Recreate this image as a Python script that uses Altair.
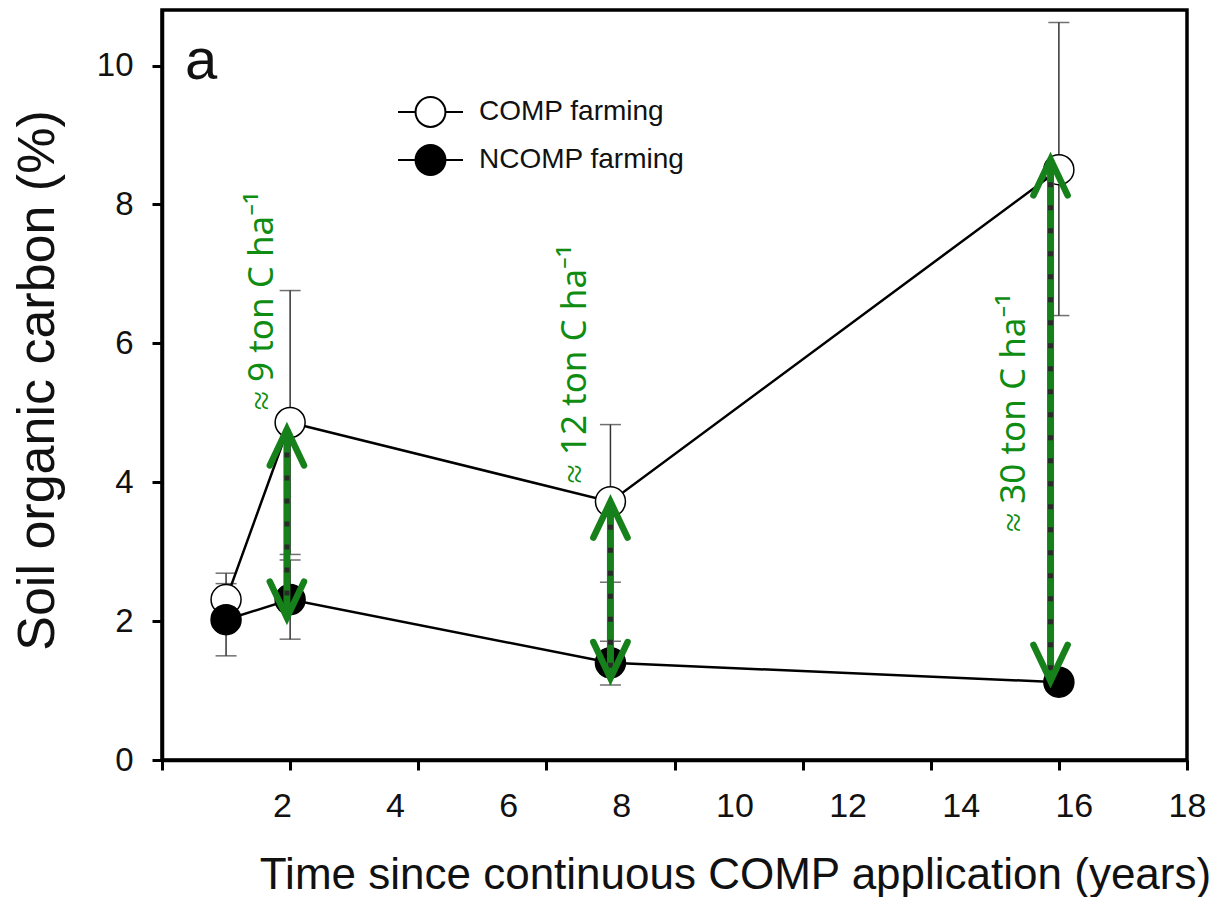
import altair as alt
import pandas as pd

# ---------------- data ----------------
years = [1, 2, 7, 14]
comp_mean = [2.31, 4.86, 3.72, 8.50]
comp_lo = [1.93, 2.96, 2.56, 6.40]
comp_hi = [2.69, 6.76, 4.83, 10.62]
ncomp_mean = [2.02, 2.31, 1.40, 1.12]
ncomp_lo = [1.50, 1.74, 1.08, 1.04]
ncomp_hi = [2.54, 2.88, 1.71, 1.20]
series_names = ["COMP farming", "NCOMP farming"]

x_tick_positions = [0, 2, 4, 6, 8, 10, 12, 14, 16]
x_tick_labels = [2, 4, 6, 8, 10, 12, 14, 16, 18]
y_ticks = [0, 2, 4, 6, 8, 10]

arrow_x = [1.95, 7.0, 13.87]
arrow_top = [4.76, 3.72, 8.65]
arrow_bottom = [2.05, 1.18, 1.14]

ann_text = ["≈ 9 ton C ha⁻¹", "≈ 12 ton C ha⁻¹", "≈ 30 ton C ha⁻¹"]
ann_x = [1.56, 6.45, 13.30]
ann_y = [6.61, 5.70, 5.00]

panel_label = ["a"]

x_title = "Time since continuous COMP application (years)"
y_title = "Soil organic carbon (%)"

# ---------------- tables ----------------
rows = []
for i, yr in enumerate(years):
    rows.append({"year": yr, "series": series_names[0], "mean": comp_mean[i], "lo": comp_lo[i], "hi": comp_hi[i]})
for i, yr in enumerate(years):
    rows.append({"year": yr, "series": series_names[1], "mean": ncomp_mean[i], "lo": ncomp_lo[i], "hi": ncomp_hi[i]})
df = pd.DataFrame(rows)
arrows = pd.DataFrame({"ax": arrow_x, "top": arrow_top, "bottom": arrow_bottom})
ann = pd.DataFrame({"x": ann_x, "y": ann_y, "t": ann_text})

FONT = "Liberation Sans"
GREEN = "#16801a"
TEXT_GREEN = "#0f8c12"

xscale = alt.Scale(domain=[0, 16], nice=False, zero=False)
yscale = alt.Scale(domain=[0, 10.8], nice=False, zero=False)

xaxis = alt.Axis(values=x_tick_positions, labels=False, ticks=True, tickSize=10, tickWidth=3,
                 tickColor="black", domainColor="black", domainWidth=3.5, grid=False,
                 orient="bottom", title=x_title, titleFont=FONT, titleFontSize=44,
                 titleFontWeight="normal", titleColor="#111", titleX=573, titleY=128,
                 titleAlign="center", titleBaseline="alphabetic", labelFlush=False)
yaxis = alt.Axis(values=y_ticks, tickSize=10, tickWidth=3, tickColor="black", domainColor="black",
                 domainWidth=3.5, grid=False, labelFont=FONT, labelFontSize=33, labelColor="#111",
                 labelPadding=19, title=y_title, titleFont=FONT, titleFontSize=52,
                 titleFontWeight="normal", titleColor="#111", titleX=-109, titleY=370,
                 titleAlign="center", titleBaseline="alphabetic")


def X(field):
    return alt.X(field, type="quantitative", scale=xscale, axis=xaxis, title=x_title)


def Y(field):
    return alt.Y(field, type="quantitative", scale=yscale, axis=yaxis, title=y_title)


base = alt.Chart(df)

err = base.mark_rule(color="#333333", strokeWidth=1.5).encode(x=X("year"), y=Y("lo"), y2="hi:Q")
cap_lo = base.mark_tick(orient="horizontal", size=21, thickness=1.5, color="#333333").encode(x=X("year"), y=Y("lo"))
cap_hi = base.mark_tick(orient="horizontal", size=21, thickness=1.5, color="#333333").encode(x=X("year"), y=Y("hi"))

lines = base.mark_line(color="black", strokeWidth=2.5).encode(x=X("year"), y=Y("mean"), detail="series:N")

legend_path = "M-1,0H-0.46A0.46,0.46 0 1,1 0.46,0A0.46,0.46 0 1,1 -0.46,0M0.46,0H1"
points = base.mark_point(shape="circle", size=900, filled=True, stroke="black", strokeWidth=1.5,
                         opacity=1, fillOpacity=1).encode(
    x=X("year"), y=Y("mean"),
    fill=alt.Fill("series:N", scale=alt.Scale(domain=series_names, range=["white", "black"]),
                  legend=alt.Legend(title=None, orient="none", legendX=235, legendY=78,
                                    symbolType=legend_path, symbolSize=4225,
                                    symbolStrokeColor="black", symbolStrokeWidth=2,
                                    symbolOpacity=1, labelLimit=500,
                                    labelFont=FONT, labelFontSize=28, labelColor="#111",
                                    labelOffset=15, clipHeight=48, rowPadding=0, padding=0)),
    order=alt.Order("series:N"),
)

ab = alt.Chart(arrows)
shaft = ab.mark_rule(color=GREEN, strokeWidth=7).encode(x=X("ax"), y=Y("top"), y2="bottom:Q")
dash = ab.mark_rule(color="#2a2a2a", strokeWidth=5, strokeDash=[5, 18]).encode(x=X("ax"), y=Y("top"), y2="bottom:Q")
up_path = "M-0.95,2L0,0L0.95,2"
down_path = "M-0.95,-2L0,0L0.95,-2"
head_up = ab.mark_point(shape=up_path, size=1296, filled=False, stroke=GREEN, strokeWidth=6.5,
                        strokeCap="round", opacity=1).encode(x=X("ax"), y=Y("top"))
head_dn = ab.mark_point(shape=down_path, size=1296, filled=False, stroke=GREEN, strokeWidth=6.5,
                        strokeCap="round", opacity=1).encode(x=X("ax"), y=Y("bottom"))

texts = alt.Chart(ann).mark_text(angle=270, font="Noto Sans", fontSize=35, color=TEXT_GREEN,
                                 align="center", baseline="middle").encode(
    x=X("x"), y=Y("y"), text="t:N")

panel = alt.Chart(pd.DataFrame({"t": panel_label})).mark_text(
    font=FONT, fontSize=58, color="#111", align="left", baseline="alphabetic").encode(
    x=alt.value(23), y=alt.value(69), text="t:N")

data_layers = alt.layer(err, cap_lo, cap_hi, lines, points, shaft, dash, head_up, head_dn, texts, panel)

label_layer = alt.Chart(pd.DataFrame({"lab": x_tick_labels})).mark_point(opacity=0).encode(
    x=alt.X("lab:Q", scale=alt.Scale(domain=[-0.12, 18.0], nice=False, zero=False),
            axis=alt.Axis(values=x_tick_labels, orient="bottom", ticks=False, tickSize=0,
                          domain=False, grid=False, labelFont=FONT, labelFontSize=34,
                          labelColor="#111", labelPadding=29, labelFlush=False,
                          labelOverlap=False, title=None))
)

chart = alt.layer(data_layers, label_layer).resolve_scale(x="independent").properties(
    width=1025, height=750,
    autosize=alt.AutoSizeParams(type="none"),
    padding={"left": 162, "top": 10, "right": 40, "bottom": 137},
    background="white",
).configure_view(stroke="black", strokeWidth=3.5)

chart.save("out.html", embed_options={"renderer": "svg", "actions": False})
